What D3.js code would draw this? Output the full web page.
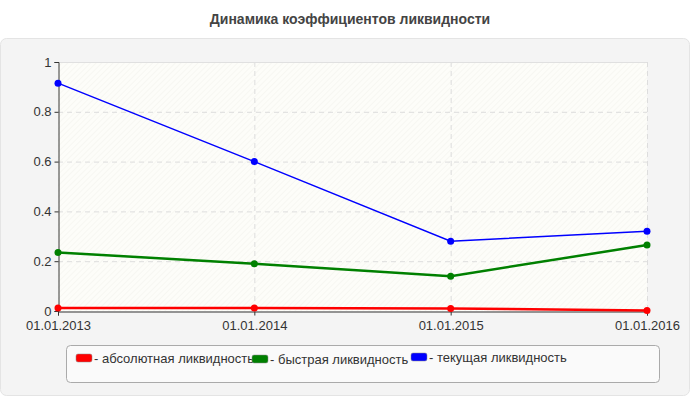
<!DOCTYPE html>
<html><head><meta charset="utf-8">
<script src="https://cdn.jsdelivr.net/npm/d3@7"></script>
<style>body{margin:0;background:#fff;font-family:"Liberation Sans",Arial,sans-serif}</style>
</head><body><div id="chart"></div>
<script>
var dates = ["01.01.2013", "01.01.2014", "01.01.2015", "01.01.2016"];
var absolute = [0.012, 0.012, 0.010, 0.002];
var quick = [0.235, 0.190, 0.140, 0.265];
var current = [0.915, 0.600, 0.280, 0.320];
var seriesNames = ["абсолютная ликвидность", "быстрая ликвидность", "текущая ликвидность"];
var seriesColors = ["#ff0000", "#008000", "#0000ff"];
var yTicks = [0, 0.2, 0.4, 0.6, 0.8, 1];

var svg = d3.select("#chart").append("svg").attr("width", 700).attr("height", 400);
var defs = svg.append("defs");
var pat = defs.append("pattern").attr("id", "hatch").attr("width", 4).attr("height", 4)
    .attr("patternUnits", "userSpaceOnUse").attr("patternTransform", "rotate(45)");
pat.append("rect").attr("width", 4).attr("height", 4).attr("fill", "#fdfdf9");
pat.append("line").attr("x1", 0).attr("y1", 0).attr("x2", 0).attr("y2", 4).attr("stroke", "#f1f1ec").attr("stroke-width", 1);

svg.append("text").attr("x", 350).attr("y", 24).attr("text-anchor", "middle")
    .attr("font-size", 14).attr("font-weight", "bold").attr("fill", "#444")
    .text("Динамика коэффициентов ликвидности");

svg.append("rect").attr("x", 0.5).attr("y", 38.5).attr("width", 689).attr("height", 357)
    .attr("rx", 6).attr("fill", "#f4f4f4").attr("stroke", "#e4e4e4");

var x = d3.scalePoint().domain(dates).range([58, 647]);
var y = d3.scaleLinear().domain([0, 1]).range([311, 62]);

svg.append("rect").attr("x", 58).attr("y", 62).attr("width", 589).attr("height", 249).attr("fill", "url(#hatch)");

var g = svg.append("g");
g.selectAll(".hg").data(yTicks.slice(1)).enter().append("line")
    .attr("x1", 58).attr("x2", 647).attr("y1", function (d) { return y(d) + 0.5; }).attr("y2", function (d) { return y(d) + 0.5; })
    .attr("stroke", "#dddddd").attr("stroke-dasharray", "5,4");
g.selectAll(".vg").data(dates.slice(1)).enter().append("line")
    .attr("y1", 62).attr("y2", 311).attr("x1", function (d) { return x(d) + 0.5; }).attr("x2", function (d) { return x(d) + 0.5; })
    .attr("stroke", "#dddddd").attr("stroke-dasharray", "5,4");
g.append("line").attr("x1", 58).attr("x2", 647).attr("y1", 62.5).attr("y2", 62.5).attr("stroke", "#e0e0e0");

var yAxis = svg.append("g").attr("transform", "translate(58.5,0)")
    .call(d3.axisLeft(y).tickValues(yTicks).tickSize(4).tickFormat(d3.format("")));
var xAxis = svg.append("g").attr("transform", "translate(0,311.5)")
    .call(d3.axisBottom(x).tickSize(4));
[yAxis, xAxis].forEach(function (a) {
    a.select(".domain").attr("stroke", "#333");
    a.selectAll(".tick line").attr("stroke", "#333");
    a.selectAll("text").attr("font-size", 13).attr("fill", "#333").attr("font-family", "Liberation Sans, Arial");
});
xAxis.selectAll("text").attr("dy", "0.85em");

var line = d3.line().x(function (d, i) { return x(dates[i]); }).y(function (d) { return y(d); });
[absolute, quick, current].forEach(function (vals, k) {
    svg.append("path").datum(vals).attr("d", line).attr("fill", "none")
        .attr("stroke", seriesColors[k]).attr("stroke-width", k === 2 ? 1.5 : 2.5);
    svg.selectAll(".p" + k).data(vals).enter().append("circle")
        .attr("cx", function (d, i) { return x(dates[i]); }).attr("cy", function (d) { return y(d); })
        .attr("r", 3.5).attr("fill", seriesColors[k]);
});

var lg = svg.append("g");
lg.append("rect").attr("x", 66.5).attr("y", 345.5).attr("width", 593).attr("height", 37)
    .attr("rx", 4).attr("fill", "#fafafa").attr("stroke", "#aaaaaa");
var lx = [76, 252, 411];
var ly = [359, 360, 358];
seriesNames.forEach(function (n, k) {
    lg.append("rect").attr("x", lx[k]).attr("y", ly[k] - 5).attr("width", 16).attr("height", 8)
        .attr("rx", 2).attr("fill", seriesColors[k]).attr("stroke", "#888").attr("stroke-width", 0.5);
    lg.append("text").attr("x", lx[k] + 18).attr("y", ly[k] + 4).attr("font-size", 13).attr("fill", "#333")
        .text("- " + n);
});
</script></body></html>
